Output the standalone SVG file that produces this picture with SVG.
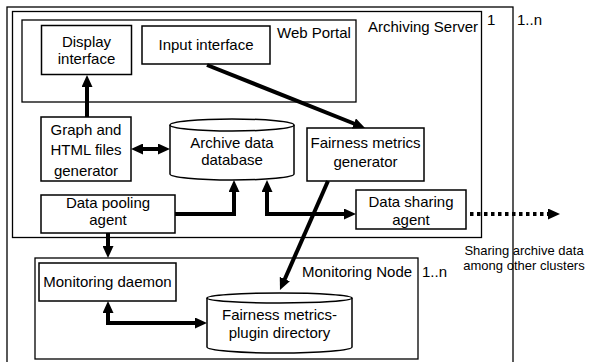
<svg xmlns="http://www.w3.org/2000/svg" width="589" height="362" viewBox="0 0 589 362">
<style>
.box{fill:#fff;stroke:#000;stroke-width:1.5}
.frame{fill:none;stroke:#000;stroke-width:1.3}
.t{font-family:"Liberation Sans",Arial,sans-serif;font-size:15px;fill:#000;text-anchor:middle}
.ts{font-family:"Liberation Sans",Arial,sans-serif;font-size:15px;fill:#000}
.tn{font-family:"Liberation Sans",Arial,sans-serif;font-size:13px;fill:#000;text-anchor:middle}
.c{fill:none;stroke:#000;stroke-width:4}
.a{marker-end:url(#ah)}
.b{marker-start:url(#ah);marker-end:url(#ah)}
</style>
<defs>
<marker id="ah" markerUnits="userSpaceOnUse" markerWidth="12" markerHeight="11" refX="4" refY="5.5" orient="auto-start-reverse">
<path d="M0,0 L12,5.5 L0,11 z" fill="#000"/>
</marker>
</defs>
<rect width="589" height="362" fill="#fff"/>
<g id="outer-cluster">
<rect class="frame" x="7" y="7" width="506" height="362"/>
<text class="ts" x="517" y="25">1..n</text>
</g>
<g id="archiving-server">
<rect class="frame" x="12.5" y="11.5" width="469" height="226"/>
<text class="ts" x="368" y="32">Archiving Server</text>
<text class="ts" x="487" y="25">1</text>
</g>
<g id="web-portal">
<rect class="frame" x="22" y="20" width="334" height="82"/>
<text class="ts" x="277" y="38">Web Portal</text>
</g>
<g id="monitoring-node">
<rect class="frame" x="35" y="258" width="383" height="101"/>
<text class="ts" x="302" y="277">Monitoring Node</text>
<text class="ts" x="422" y="277">1..n</text>
</g>
<g id="display-interface">
<rect class="box" x="41.5" y="25.5" width="90" height="49"/>
<text class="t" x="86.5" y="47">Display</text>
<text class="t" x="86.5" y="64">interface</text>
</g>
<g id="input-interface">
<rect class="box" x="142" y="26" width="128" height="38"/>
<text class="t" x="206" y="50">Input interface</text>
</g>
<g id="graph-generator">
<rect class="box" x="41" y="117" width="90" height="64"/>
<text class="t" x="86" y="135">Graph and</text>
<text class="t" x="86" y="155">HTML files</text>
<text class="t" x="86" y="176">generator</text>
</g>
<g id="archive-database">
<path class="box" d="M170,125 A62,6 0 0,1 294,125 V174 A62,6 0 0,1 170,174 Z"/>
<path class="box" d="M170,125 A62,6 0 0,0 294,125" fill="none"/>
<text class="t" x="232" y="148">Archive data</text>
<text class="t" x="232" y="165">database</text>
</g>
<g id="fairness-generator">
<rect class="box" x="307" y="128" width="117" height="53"/>
<text class="t" x="365.5" y="148">Fairness metrics</text>
<text class="t" x="365.5" y="167">generator</text>
</g>
<g id="data-pooling-agent">
<rect class="box" x="41" y="195" width="134" height="38"/>
<text class="t" x="108" y="208">Data pooling</text>
<text class="t" x="108" y="225">agent</text>
</g>
<g id="data-sharing-agent">
<rect class="box" x="356" y="190" width="110" height="39"/>
<text class="t" x="411" y="207">Data sharing</text>
<text class="t" x="411" y="225">agent</text>
</g>
<g id="monitoring-daemon">
<rect class="box" x="39" y="263" width="137" height="38"/>
<text class="t" x="107.5" y="287">Monitoring daemon</text>
</g>
<g id="plugin-directory">
<path class="box" d="M207,298 A72.5,5 0 0,1 352,298 V347 A72.5,6 0 0,1 207,347 Z"/>
<path class="box" d="M207,298 A72.5,5 0 0,0 352,298" fill="none"/>
<text class="t" x="279.5" y="320">Fairness metrics-</text>
<text class="t" x="279.5" y="338">plugin directory</text>
</g>
<g id="sharing-label">
<text class="tn" x="524" y="255">Sharing archive data</text>
<text class="tn" x="524" y="270">among other clusters</text>
</g>
<g id="connectors">
<path class="c a" d="M87,117 V83"/>
<path class="c a" d="M207,65 L357.6,125"/>
<path class="c b" d="M139,149 H162"/>
<path class="c a" d="M175,214 H234 V188"/>
<path class="c b" d="M267,188 V214 H348"/>
<path class="c a" d="M328,181 L283.2,282.7"/>
<path class="c a" d="M108,233 V250"/>
<path class="c b" d="M108,309 V323 H199"/>
<path class="c a" d="M470,214 H552" stroke-dasharray="3.5 3.5"/>
</g>
</svg>
